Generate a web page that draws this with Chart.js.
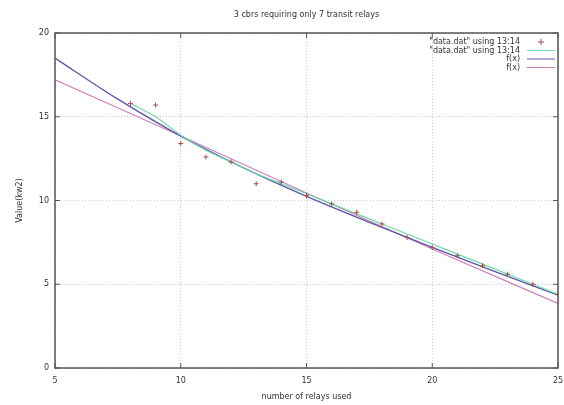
<!DOCTYPE html>
<html>
<head>
<meta charset="utf-8">
<script src="https://cdn.jsdelivr.net/npm/chart.js@4/dist/chart.umd.min.js"></script>
<style>
  html, body { margin: 0; padding: 0; background: #fff; }
  #wrap { width: 564px; height: 405px; position: relative; }
</style>
</head>
<body>
<div id="wrap"><canvas id="chart"></canvas></div>
<script>
// values
const titleText = '3 cbrs requiring only 7 transit relays';
const xTitle = 'number of relays used';
const yTitle = 'Value(kw2)';

const pointX = [8, 9, 10, 11, 12, 13, 14, 15, 16, 17, 18, 19, 20, 21, 22, 23, 24, 25];
const pointY = [15.8, 15.7, 13.4, 12.6, 12.3, 11.0, 11.1, 10.3, 9.8, 9.3, 8.6, 7.8, 7.2, 6.7, 6.1, 5.6, 5.0, 4.4];

const lineX = [8, 9, 10, 11, 12, 13, 14, 15, 16, 17, 18, 19, 20, 21, 22, 23, 24, 25];
const lineY = [15.8, 15.0, 13.9, 13.0, 12.3, 11.6, 11.0, 10.4, 9.8, 9.2, 8.6, 8.0, 7.4, 6.8, 6.2, 5.6, 5.0, 4.4];

const fit1X = [5, 7.5, 10, 12.5, 15, 17.5, 20, 22.5, 25];
const fit1Y = [18.5, 16.05, 13.85, 11.95, 10.25, 8.7, 7.2, 5.75, 4.35];
const fit2X = [5, 10, 15, 20, 25];
const fit2Y = [17.2, 13.85, 10.45, 7.1, 3.85];

const labels = ['"data.dat" using 13:14', '"data.dat" using 13:14', 'f(x)', 'f(x)'];
const colors = ['#a0504a', '#6fd8a8', '#5a5aa8', '#d080b8'];

const xTicks = [5, 10, 15, 20, 25];
const yTicks = [0, 5, 10, 15, 20];

const toXY = (xs, ys) => xs.map((x, i) => ({ x: x, y: ys[i] }));

const FONT = '8px "DejaVu Sans", sans-serif';

const textPlugin = {
    id: 'gnuplotText',
    afterDraw(chart) {
        const ctx = chart.ctx;
        const area = chart.chartArea;
        ctx.save();
        ctx.fillStyle = '#333';
        ctx.font = FONT;
        ctx.textAlign = 'center';
        ctx.textBaseline = 'middle';
        ctx.fillText(titleText, (area.left + area.right) / 2, 15);
        ctx.fillText(xTitle, (area.left + area.right) / 2, 397);
        ctx.save();
        ctx.translate(20, (area.top + area.bottom) / 2);
        ctx.rotate(-Math.PI / 2);
        ctx.fillText(yTitle, 0, 0);
        ctx.restore();

        // frame
        ctx.strokeStyle = '#555';
        ctx.lineWidth = 1.5;
        ctx.strokeRect(area.left, area.top, area.right - area.left, area.bottom - area.top);

        // inward tick marks
        ctx.lineWidth = 1;
        const xs = chart.scales.x, ys = chart.scales.y;
        xTicks.forEach(v => {
            const px = xs.getPixelForValue(v);
            ctx.beginPath();
            ctx.moveTo(px, area.bottom); ctx.lineTo(px, area.bottom - 5);
            ctx.moveTo(px, area.top); ctx.lineTo(px, area.top + 5);
            ctx.stroke();
        });
        yTicks.forEach(v => {
            const py = ys.getPixelForValue(v);
            ctx.beginPath();
            ctx.moveTo(area.left, py); ctx.lineTo(area.left + 5, py);
            ctx.moveTo(area.right, py); ctx.lineTo(area.right - 5, py);
            ctx.stroke();
        });

        // legend inside top right
        ctx.textAlign = 'right';
        chart.data.datasets.forEach((ds, i) => {
            const y = 42 + i * 8.5;
            ctx.fillStyle = '#333';
            ctx.fillText(ds.label, 520, y);
            ctx.strokeStyle = ds.borderColor;
            ctx.lineWidth = 1;
            if (i === 0) {
                ctx.beginPath();
                ctx.moveTo(538, y); ctx.lineTo(544, y);
                ctx.moveTo(541, y - 3); ctx.lineTo(541, y + 3);
                ctx.stroke();
            } else {
                ctx.beginPath();
                ctx.moveTo(527, y); ctx.lineTo(555, y);
                ctx.stroke();
            }
        });
        ctx.restore();
    }
};

new Chart(document.getElementById('chart'), {
    type: 'scatter',
    data: {
        datasets: [
            {
                label: labels[0],
                data: toXY(pointX, pointY),
                showLine: false,
                borderColor: colors[0],
                backgroundColor: colors[0],
                pointStyle: 'cross',
                pointRadius: 2.5,
                borderWidth: 1
            },
            {
                label: labels[1],
                data: toXY(lineX, lineY),
                showLine: true,
                borderColor: colors[1],
                borderWidth: 1.2,
                pointRadius: 0,
                tension: 0.3
            },
            {
                label: labels[2],
                data: toXY(fit1X, fit1Y),
                showLine: true,
                borderColor: colors[2],
                borderWidth: 1.4,
                pointRadius: 0,
                cubicInterpolationMode: 'monotone'
            },
            {
                label: labels[3],
                data: toXY(fit2X, fit2Y),
                showLine: true,
                borderColor: colors[3],
                borderWidth: 1.2,
                pointRadius: 0,
                cubicInterpolationMode: 'monotone'
            }
        ]
    },
    options: {
        responsive: true,
        maintainAspectRatio: false,
        animation: false,
        layout: { padding: { left: 0, right: 6, top: 33, bottom: 0 } },
        plugins: {
            legend: { display: false },
            tooltip: { enabled: false }
        },
        scales: {
            x: {
                type: 'linear',
                min: 5, max: 25,
                afterFit: s => { s.height = 37; s.paddingLeft = 0; s.paddingRight = 0; },
                afterBuildTicks: s => { s.ticks = xTicks.map(v => ({ value: v })); },
                grid: { color: '#ccc', lineWidth: 1, borderDash: [1, 2], drawTicks: false },
                border: { display: false, dash: [1, 2] },
                ticks: { font: { family: 'DejaVu Sans', size: 8 }, color: '#333', padding: 8, maxRotation: 0 }
            },
            y: {
                min: 0, max: 20,
                afterFit: s => { s.width = 55; s.paddingTop = 0; s.paddingBottom = 0; },
                afterBuildTicks: s => { s.ticks = yTicks.map(v => ({ value: v })); },
                grid: { color: '#ccc', lineWidth: 1, drawTicks: false },
                border: { display: false, dash: [1, 2] },
                ticks: { font: { family: 'DejaVu Sans', size: 8 }, color: '#333', padding: 6 }
            }
        }
    },
    plugins: [textPlugin]
});
</script>
</body>
</html>
